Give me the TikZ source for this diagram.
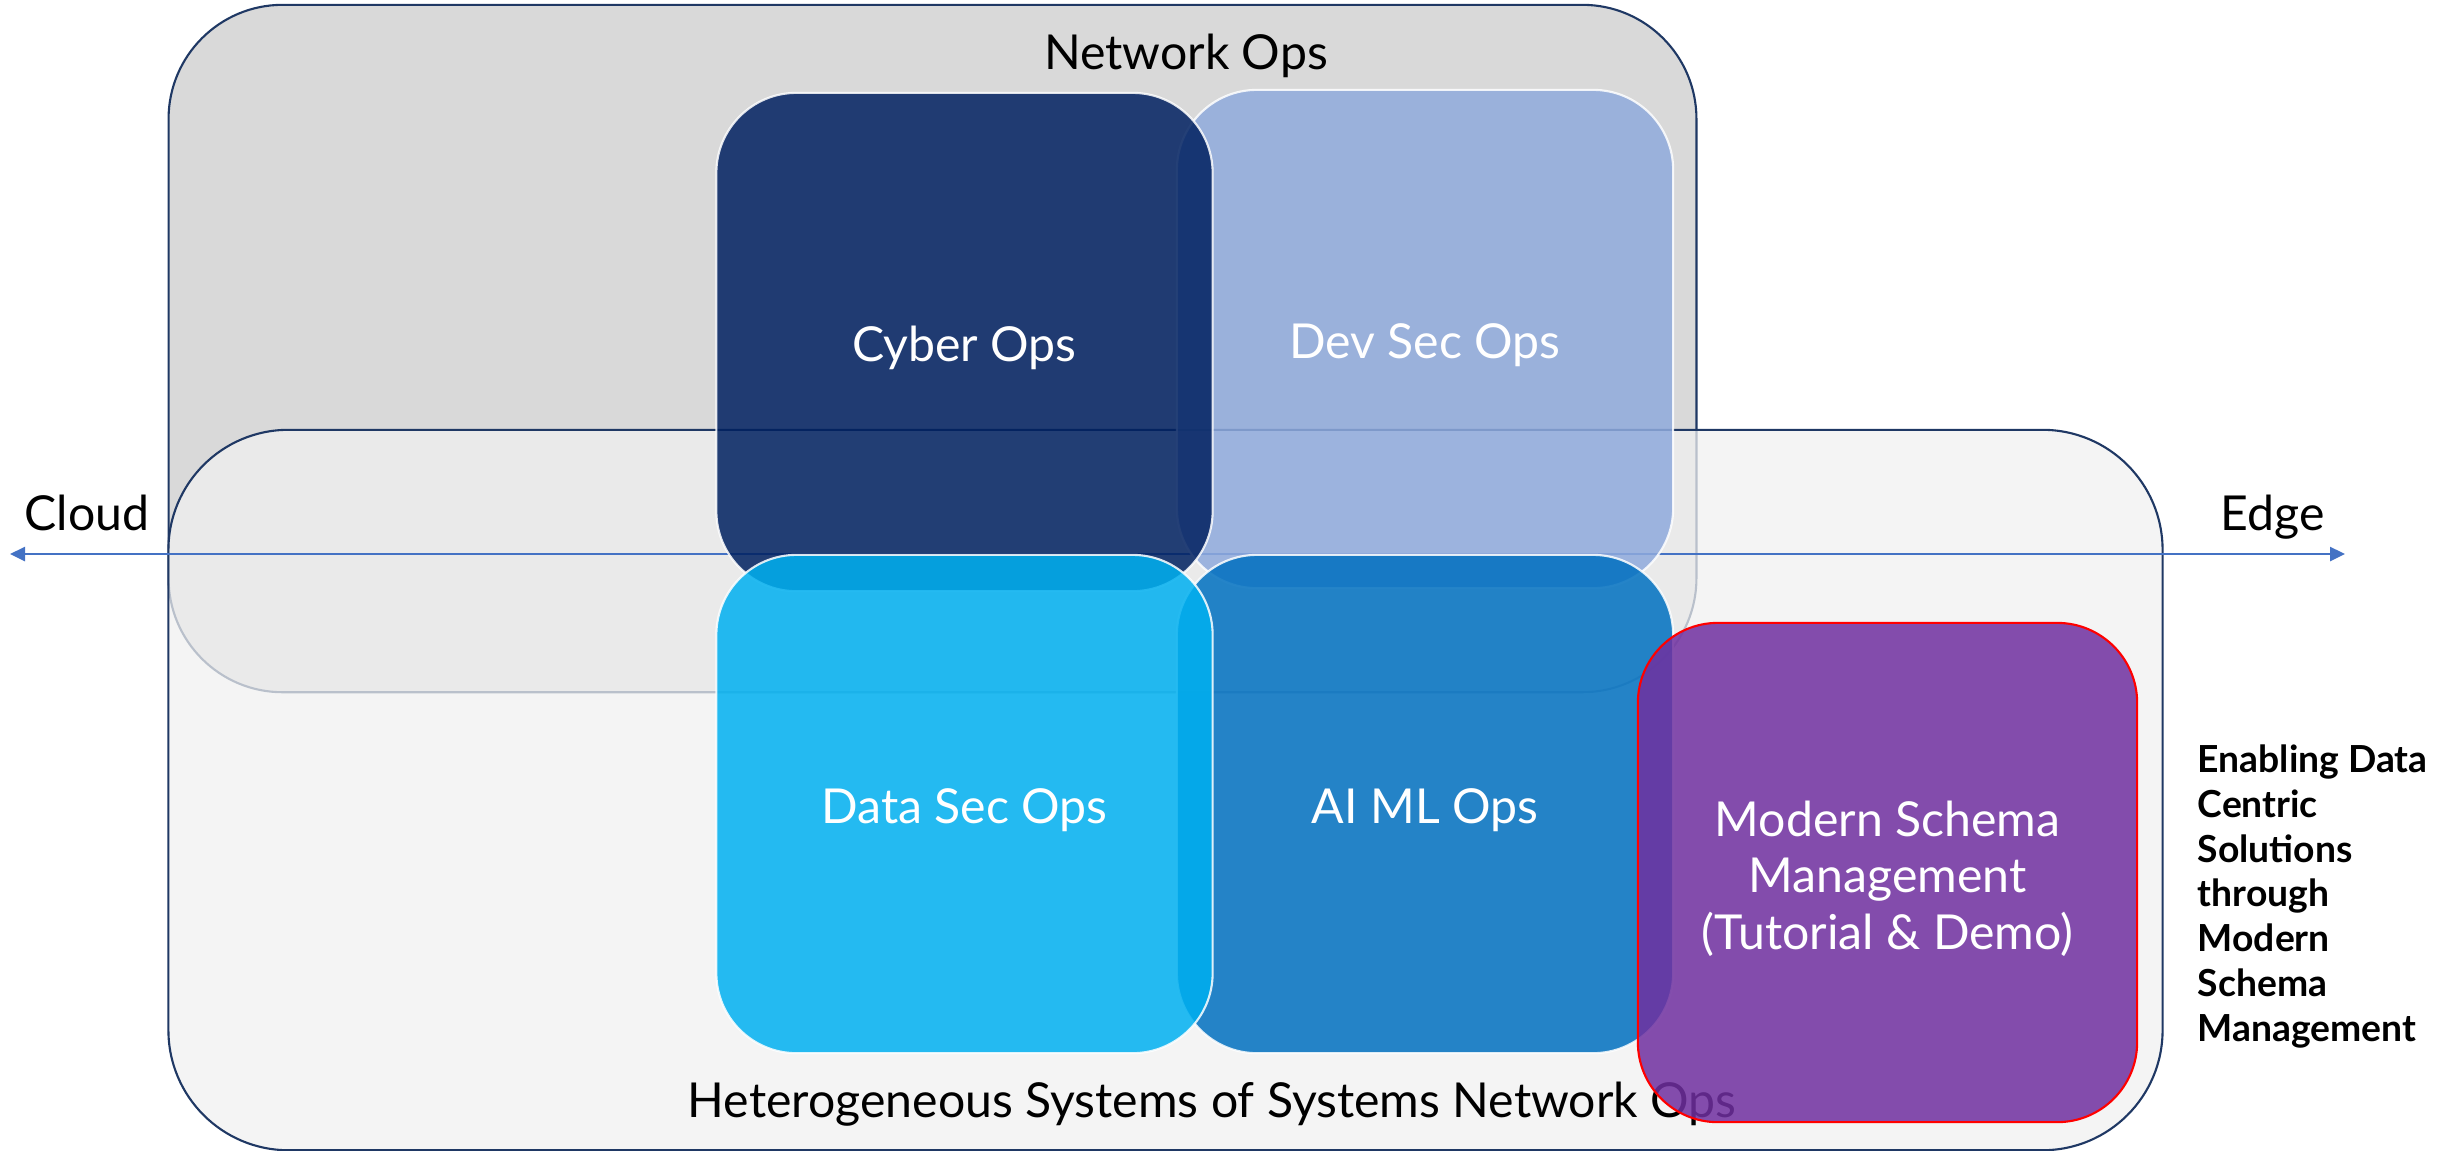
\documentclass[tikz,border=0pt]{standalone}
\usepackage{fontspec}
\setmainfont{Lato}
\usetikzlibrary{arrows.meta}

\definecolor{netgray}{HTML}{D9D9D9}
\definecolor{hetgray}{HTML}{F0F0F0}
\definecolor{navyline}{HTML}{1F3864}
\definecolor{cyberblue}{HTML}{002060}
\definecolor{devblue}{HTML}{8FAADC}
\definecolor{datablue}{HTML}{00B0F0}
\definecolor{aiblue}{HTML}{0070C0}
\definecolor{schemapurple}{HTML}{7030A0}
\definecolor{axisblue}{HTML}{4472C4}

\begin{document}
\begin{tikzpicture}[x=0.01cm, y=-0.01cm,
  region/.style={rectangle, draw=navyline, line width=0.6pt, inner sep=0pt},
  opsbox/.style={rectangle, rounded corners=0.8cm, draw=white, line width=0.6pt,
    opacity=0.85, inner sep=0pt, minimum width=4.96cm, minimum height=4.98cm},
  opstext/.style={inner sep=0pt, text=white, align=center, yshift=-0.06cm,
    font=\fontsize{13.7pt}{16.1pt}\selectfont},
  lbl/.style={inner sep=0pt, text=black, font=\fontsize{13.7pt}{16pt}\selectfont},
  axis/.style={draw=axisblue, line width=0.7pt, {Triangle[length=0.15cm, width=0.14cm]}-{Triangle[length=0.15cm, width=0.14cm]}}
]
\useasboundingbox (0,0) rectangle (2442,1150);

% outer regions
\node[region, fill=netgray, rounded corners=1.14cm,
      minimum width=15.27cm, minimum height=6.87cm] (netops) at (932.5,348.5) {};
\node[lbl, anchor=base] (netopslabel) at (1186,69) {Network Ops};

\node[region, fill=hetgray, fill opacity=0.74, rounded corners=1.2cm,
      minimum width=19.93cm, minimum height=7.2cm] (hetero) at (1165.5,790) {};
\node[lbl, anchor=base] (heterolabel) at (1212,1117)
  {Heterogeneous Systems of Systems Network Ops};

% cloud-to-edge axis
\node[lbl, anchor=base west] (cloud) at (24,530) {Cloud};
\node[lbl, anchor=base west] (edge) at (2220,530) {Edge};
\coordinate (cloudtip) at (10,554);
\coordinate (edgetip) at (2345,554);
\draw[axis] (cloudtip) -- (edgetip);

% the four ops quadrants
\node[opsbox, fill=devblue] (devsec) at (1425,339) {};
\node[opstext] (devsectext) at (devsec.center) {Dev Sec Ops};
\node[opsbox, fill=cyberblue] (cyber) at (964.5,342) {};
\node[opstext] (cybertext) at (cyber.center) {Cyber Ops};
\node[opsbox, fill=aiblue] (aiml) at (1425,804) {};
\node[opstext] (aimltext) at (aiml.center) {AI ML Ops};
\node[opsbox, fill=datablue] (datasec) at (964.5,804) {};
\node[opstext] (datasectext) at (datasec.center) {Data Sec Ops};

% schema management box
\node[opsbox, fill=schemapurple, draw=red, draw opacity=1,
      minimum width=4.99cm, minimum height=4.99cm] (schema) at (1887.5,872.5) {};
\node[opstext] (schematext) at (schema.center)
  {Modern Schema\\Management\\(Tutorial \& Demo)};

% side caption
\node[inner sep=0pt, anchor=north west, align=left, text=black,
      font=\bfseries\fontsize{10.6pt}{12.75pt}\selectfont] (tagline) at (2197,744)
  {Enabling Data\\Centric\\Solutions\\through\\Modern\\Schema\\Management};
\end{tikzpicture}
\end{document}
